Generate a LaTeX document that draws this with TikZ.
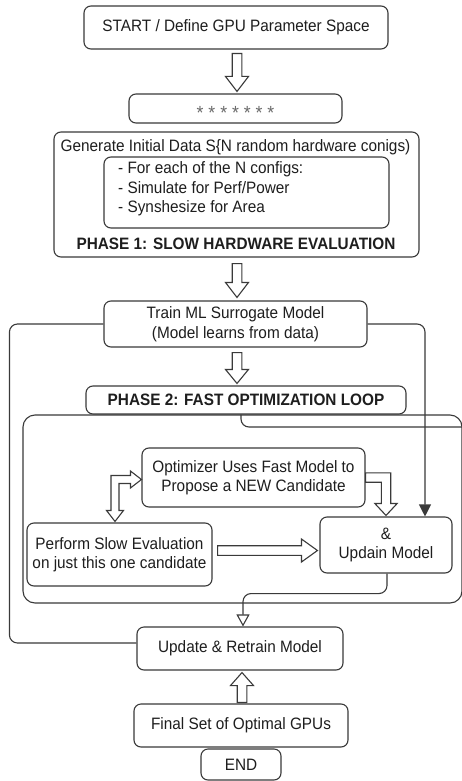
\documentclass[tikz,border=0pt]{standalone}
\usepackage{fontspec}
\setmainfont{Liberation Sans}[FakeStretch=0.93]
\usetikzlibrary{calc,arrows.meta}
\definecolor{linegray}{HTML}{3A3A3A}
\definecolor{inkgray}{HTML}{1E1E1E}
\definecolor{stargray}{HTML}{6A6A6A}
\tikzset{
	box/.style={draw=linegray, line width=1.1pt, rounded corners=7pt, inner sep=0pt, text=inkgray, align=center, font=\fontsize{16.5}{19.5}\selectfont},
	txt/.style={inner sep=0pt, text=inkgray, align=center, font=\fontsize{16.5}{19.5}\selectfont},
	bold/.style={font=\fontsize{16.5}{19.5}\selectfont\bfseries},
	hollow/.style={draw=linegray, line width=1.1pt, fill=white, line join=miter},
	link/.style={draw=linegray, line width=1.1pt, rounded corners=8pt},
}
% straight block arrow from #2 to #3, head length #1
\def\hollowarrow[#1](#2)(#3){%
	\coordinate (ha-h) at ($(#3)!#1!(#2)$);
	\draw[hollow] ($(#2)!4.8pt!90:(#3)$) -- ($(ha-h)!4.8pt!90:(#3)$) -- ($(ha-h)!11.5pt!90:(#3)$) -- (#3)
		-- ($(ha-h)!11.5pt!-90:(#3)$) -- ($(ha-h)!4.8pt!-90:(#3)$) -- ($(#2)!4.8pt!-90:(#3)$) -- cycle;}

\begin{document}
\begin{tikzpicture}[x=1pt,y=-1pt]
	\useasboundingbox[fill=white] (0,0) rectangle (462,781);
	
	%%%%% PHASE 1 %%%%%
	\node[box, minimum width=304pt, minimum height=43pt] (start) at (236,27.5) {START / Define GPU Parameter Space};
	\node[box, minimum width=213pt, minimum height=29pt] (stars) at (235.5,108.5) {};
	\node[txt, text=stargray, font=\fontsize{19}{20}\selectfont] (starline) at (235.5,112.5) {* * * * * * *};
	\node[box, minimum width=365pt, minimum height=125pt] (phase1) at (236.5,194.5) {};
	\node[txt] (gen) at (235.5,147) {Generate Initial Data S\{N random hardware conigs)};
	\node[box, minimum width=285pt, minimum height=71pt] (configs) at (246.5,192.5) {};
	\node[txt, anchor=west, align=left] (steps) at (118,189) {- For each of the N configs:\\- Simulate for Perf/Power\\- Synshesize for Area};
	\node[txt, bold] (ph1) at (236,244) {PHASE 1: SLOW HARDWARE EVALUATION};
	
	\node[box, minimum width=263pt, minimum height=46pt] (train) at (235.5,324) {Train ML Surrogate Model\\(Model learns from data)};
	
	%%%%% PHASE 2 %%%%%
	\node[box, bold, minimum width=320pt, minimum height=28pt] (ph2) at (246,400) {PHASE 2: FAST OPTIMIZATION LOOP};
	\draw[link, rounded corners=12pt] (23,415) rectangle (462,603);
	
	\node[box, minimum width=223pt, minimum height=59pt] (opt) at (253.5,477.5) {Optimizer Uses Fast Model to\\Propose a NEW Candidate};
	\node[box, minimum width=185pt, minimum height=63pt] (perf) at (119.5,554.5) {Perform Slow Evaluation\\on just this one candidate};
	\node[box, minimum width=132pt, minimum height=56pt] (upd) at (386,545) {\&\\Updain Model};
	
	\node[box, minimum width=206pt, minimum height=43pt] (retrain) at (240,648.5) {Update \& Retrain Model};
	\node[box, minimum width=214pt, minimum height=43pt] (final) at (241,725.5) {Final Set of Optimal GPUs};
	\node[box, minimum width=80pt, minimum height=31pt] (end) at (241,764.5) {END};
	
	%%%%% ARROWS %%%%%
	\coordinate (a1s) at ($(start.south)+(1,4)$);
	\coordinate (a1e) at ($(stars.north)+(1.5,-2)$);
	\hollowarrow[15pt](a1s)(a1e);
	\coordinate (a2s) at ($(phase1.south)+(0.5,6)$);
	\coordinate (a2e) at ($(train.north)+(1.5,-3)$);
	\hollowarrow[15pt](a2s)(a2e);
	\coordinate (a3s) at ($(train.south)+(1.5,5)$);
	\coordinate (a3e) at ($(train.south |- ph2.north)+(1.5,-2)$);
	\hollowarrow[14pt](a3s)(a3e);
	\coordinate (a4s) at ($(perf.east)+(5,-4)$);
	\coordinate (a4e) at ($(upd.west)+(-2,5.5)$);
	\hollowarrow[16pt](a4s)(a4e);
	\coordinate (a5s) at ($(final.north)+(1,-1)$);
	\coordinate (a5e) at ($(retrain.south)+(2,2)$);
	\hollowarrow[13pt](a5s)(a5e);
	
	% optimizer -> update model
	\draw[hollow] ($(opt.east)+(0,-4.7)$) -| ($(upd.north)+(4.7,-13)$) -- ++(6.5,0) -- ($(upd.north)+(0,-1)$)
		-- ($(upd.north)+(-11.2,-13)$) -- ++(6.5,0) |- ($(opt.east)+(0,4.7)$) -- cycle;
	
	% optimizer <-> slow evaluation
	\coordinate (dh1) at ($(opt.west)+(0,2)$);
	\coordinate (dh2) at ($(perf.north)+(-4.5,-1)$);
	\draw[hollow] (dh1) -- ++(-11,-8.5) -- ++(0,4.5) -| ($(dh2)+(-4,-11)$) -- ++(-4.5,0) -- (dh2)
		-- ++(8.5,-11) -- ++(-4.5,0) |- ($(dh1)+(-11,4)$) -- ++(0,4.5) -- cycle;
	
	% outer loops
	\draw[link] (train.west) -- ++(-94,0) |- ($(retrain.west)+(0,-5.5)$);
	\draw[link, -{Triangle[length=12pt, width=12pt]}] (train.east) -| ($(upd.north)+(39,0)$);
	\coordinate (loopexit) at (462,427);
	\draw[link] ($(ph2.south)+(-5,0)$) |- (loopexit);
	\draw[link, -{Triangle[open, fill=white, length=12pt, width=13pt]}] ($(upd.south)+(1,0)$) -- ++(0,20) -| ($(retrain.north)+(3,0)$);
\end{tikzpicture}
\end{document}
